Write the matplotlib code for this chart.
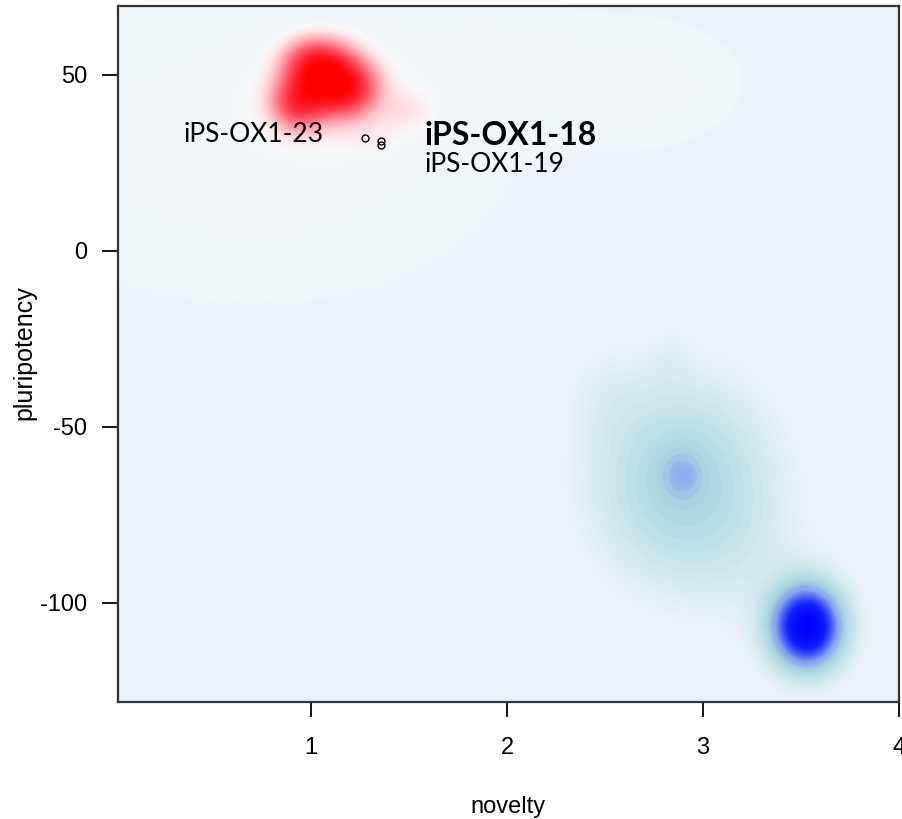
import numpy as np
import matplotlib
matplotlib.use("Agg")
import matplotlib.pyplot as plt
from matplotlib.colors import to_rgb

# ---------------- data ----------------
# density components for the iPS (red) group: centre x, centre y, sd x, sd y, weight
red_cx = [1.08, 0.93, 1.20, 1.00, 1.10, 1.50, 1.33, 0.70, 2.65, 1.90]
red_cy = [49.0, 42.0, 46.0, 54.0, 44.0, 40.0, 32.0, 30.0, 48.0, 55.0]
red_sx = [0.12, 0.09, 0.10, 0.10, 0.28, 0.10, 0.10, 0.80, 0.33, 0.30]
red_sy = [6.0, 5.0, 5.0, 4.5, 11.0, 4.0, 4.0, 27.0, 11.0, 10.0]
red_w = [1.0, 0.6, 0.5, 0.4, 0.12, 0.10, 0.05, 0.05, 0.05, 0.04]

# density components for the other (blue) group
blue_cx = [3.533, 3.52, 2.894, 2.90, 2.50, 2.83, 3.25]
blue_cy = [-106.9, -105.0, -63.6, -66.0, -40.0, -30.0, -88.0]
blue_sx = [0.115, 0.20, 0.07, 0.30, 0.15, 0.08, 0.22]
blue_sy = [7.5, 13.0, 4.5, 19.0, 10.0, 6.0, 14.0]
blue_w = [1.0, 0.05, 0.13, 0.26, 0.04, 0.03, 0.03]

# labelled samples
pt_x = [1.275, 1.358, 1.358]
pt_y = [32.2, 31.3, 30.0]
lab_text = ["iPS-OX1-23", "iPS-OX1-18", "iPS-OX1-19"]
lab_x = [1.066, 1.577, 1.577]
lab_y = [31.0, 30.0, 22.3]

x_ticks = [1, 2, 3, 4]
y_ticks = [-100, -50, 0, 50]
xlim = (0.015, 4.0)
ylim = (-128.2, 69.6)

# ---------------- density image ----------------
nx, ny = 700, 700
gx = np.linspace(xlim[0], xlim[1], nx)
gy = np.linspace(ylim[0], ylim[1], ny)
X, Y = np.meshgrid(gx, gy)


def field(cx, cy, sx, sy, w):
    F = np.zeros_like(X)
    for a, b, c, d, e in zip(cx, cy, sx, sy, w):
        F += e * np.exp(-0.5 * (((X - a) / c) ** 2 + ((Y - b) / d) ** 2))
    return F


R = field(red_cx, red_cy, red_sx, red_sy, red_w)
B = field(blue_cx, blue_cy, blue_sx, blue_sy, blue_w)
tr = (R / R.max()) ** 0.25
tb = (B / B.max()) ** 0.25
# stepped levels in the pale part of the blue ramp, as in the reference
tb = np.where(tb < 0.76, np.floor(tb * 40) / 40, tb)


def ramp(t, stops, cols):
    cols = np.array([to_rgb(c) for c in cols])
    out = np.zeros(t.shape + (3,))
    for k in range(3):
        out[..., k] = np.interp(t, stops, cols[:, k])
    return out


b_stops = [0.0, 0.40, 0.47, 0.55, 0.63, 0.70, 0.72, 0.73, 0.80, 0.86, 0.92, 1.0]
b_cols = ["#EAF2F9", "#EAF2F9", "#E2F0F4", "#D3E9EF", "#BFE0E8", "#A8D4E0",
          "#A5D0E2", "#9CBDEA", "#88A6F0", "#4A62F5", "#1020FF", "#0000FF"]
blue_rgb = ramp(tb, b_stops, b_cols)

r_stops = [0.0, 0.30, 0.45, 0.50, 0.57, 0.64, 0.72, 0.80, 0.88, 0.95, 1.0]
r_cols = ["#EFF6F9", "#EFF6F9", "#F1F7FA", "#F8F9FA", "#FFE6EA", "#FFC4CC",
          "#FF909C", "#FF5565", "#FF2030", "#FF0000", "#FF0000"]
r_alpha = np.interp(tr, [0.0, 0.292, 0.305, 1.0], [0, 0, 1, 1])
red_rgb = ramp(tr, r_stops, r_cols)
img = blue_rgb * (1 - r_alpha[..., None]) + red_rgb * r_alpha[..., None]

# ---------------- figure ----------------
W, H = 902, 819
fig = plt.figure(figsize=(W / 100, H / 100), dpi=100)
ax = fig.add_axes([118 / W, 1 - 702 / H, (899 - 118) / W, (702 - 6) / H])
ax.imshow(img, extent=[xlim[0], xlim[1], ylim[0], ylim[1]], origin="lower",
          aspect="auto", interpolation="bilinear", zorder=0)
ax.set_xlim(*xlim)
ax.set_ylim(*ylim)

ax.plot(pt_x, pt_y, "o", mfc="none", mec="black", ms=5, mew=1.0, zorder=3)

ax.text(lab_x[0], lab_y[0], lab_text[0], ha="right", va="baseline",
        family="Lato", fontsize=19, color="black")
ax.text(lab_x[1], lab_y[1], lab_text[1], ha="left", va="baseline",
        family="Lato", fontsize=23, fontweight="bold", color="black")
ax.text(lab_x[2], lab_y[2], lab_text[2], ha="left", va="baseline",
        family="Lato", fontsize=19, color="black")

ax.set_xticks(x_ticks)
ax.set_yticks(y_ticks)
ax.set_xticklabels([str(v) for v in x_ticks], family="Liberation Sans", fontsize=17)
ax.set_yticklabels([str(v) for v in y_ticks], family="Liberation Sans", fontsize=17)
ax.tick_params(axis="x", direction="out", length=10.5, width=1.3, pad=15, colors="black")
ax.tick_params(axis="y", direction="out", length=11.5, width=1.3, pad=10.5, colors="black")
for s in ax.spines.values():
    s.set_linewidth(1.6)
    s.set_color("#333333")

fig.text(508.5 / W, 1 - 807 / H, "novelty", ha="center", va="center",
         family="Liberation Sans", fontsize=17)
fig.text(24 / W, 1 - 353 / H, "pluripotency", ha="center", va="center",
         rotation=90, family="Liberation Sans", fontsize=18)

fig.savefig("out.png", dpi=100)
